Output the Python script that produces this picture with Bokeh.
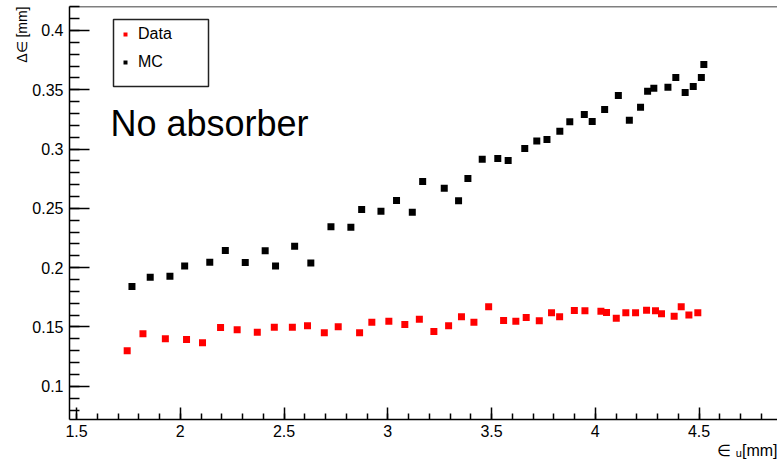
from bokeh.embed import file_html
from bokeh.models import (BoxAnnotation, ColumnDataSource, CustomJSTickFormatter,
                          Label, Legend, LegendItem, Range1d, SingleIntervalTicker, Span, Title)
from bokeh.plotting import figure
from bokeh.resources import INLINE

# Resolution measurements: emittance (x) vs. emittance change (y), no absorber
data_x = [1.744, 1.820, 1.928, 2.030, 2.107, 2.194, 2.274, 2.371, 2.453, 2.540,
          2.613, 2.694, 2.761, 2.864, 2.923, 3.005, 3.082, 3.152, 3.222, 3.293,
          3.355, 3.415, 3.486, 3.558, 3.617, 3.667, 3.730, 3.789, 3.828, 3.899,
          3.950, 4.027, 4.054, 4.101, 4.147, 4.194, 4.247, 4.290, 4.319, 4.380,
          4.414, 4.451, 4.494]
data_y = [0.1300, 0.1443, 0.1400, 0.1395, 0.1367, 0.1496, 0.1476, 0.1456, 0.1498, 0.1498,
          0.1510, 0.1451, 0.1502, 0.1451, 0.1540, 0.1549, 0.1521, 0.1566, 0.1462, 0.1510,
          0.1586, 0.1540, 0.1670, 0.1555, 0.1549, 0.1580, 0.1552, 0.1620, 0.1586, 0.1639,
          0.1637, 0.1633, 0.1622, 0.1574, 0.1620, 0.1620, 0.1642, 0.1637, 0.1611, 0.1591,
          0.1670, 0.1600, 0.1620]

mc_x = [1.767, 1.855, 1.950, 2.021, 2.142, 2.217, 2.313, 2.409, 2.459, 2.551,
        2.629, 2.726, 2.822, 2.874, 2.967, 3.042, 3.118, 3.168, 3.272, 3.341,
        3.386, 3.455, 3.530, 3.580, 3.660, 3.718, 3.767, 3.829, 3.877, 3.947,
        3.985, 4.045, 4.111, 4.164, 4.218, 4.252, 4.282, 4.350, 4.388, 4.433,
        4.472, 4.511, 4.523]
mc_y = [0.1842, 0.1920, 0.1928, 0.2014, 0.2046, 0.2145, 0.2044, 0.2143, 0.2014, 0.2180,
        0.2040, 0.2345, 0.2341, 0.2490, 0.2476, 0.2567, 0.2468, 0.2727, 0.2670, 0.2564,
        0.2752, 0.2915, 0.2921, 0.2904, 0.3005, 0.3067, 0.3081, 0.3151, 0.3230, 0.3292,
        0.3233, 0.3334, 0.3452, 0.3244, 0.3353, 0.3488, 0.3513, 0.3522, 0.3604, 0.3477,
        0.3528, 0.3604, 0.3713]

series_labels = ["Data", "MC"]
annotation_text = "No absorber"
x_title = "\u2208 \u1d64[mm]"
y_title = "\u0394\u2208 [mm]"

X_START, X_END = 1.466, 4.878
Y_START, Y_END = 0.072, 0.4202

FONT = "Liberation Sans"

p = figure(width=777, height=461, output_backend="svg", toolbar_location=None,
           x_range=Range1d(X_START, X_END), y_range=Range1d(Y_START, Y_END),
           min_border_left=69, min_border_right=0, min_border_top=6, min_border_bottom=42)
p.outline_line_color = None
p.background_fill_color = "white"
p.border_fill_color = "white"
p.xgrid.visible = False
p.ygrid.visible = False

fmt = CustomJSTickFormatter(code="return String(parseFloat(tick.toFixed(3)));")

xa = p.xaxis[0]
xa.ticker = SingleIntervalTicker(interval=0.5, num_minor_ticks=5)
xa.formatter = fmt
xa.major_tick_in = 12
xa.major_tick_out = 0
xa.minor_tick_in = 6
xa.minor_tick_out = 0
xa.major_label_standoff = 5

ya = p.yaxis[0]
ya.ticker = SingleIntervalTicker(interval=0.05, num_minor_ticks=5)
ya.formatter = fmt
ya.major_tick_in = 20
ya.major_tick_out = 0
ya.minor_tick_in = 10
ya.minor_tick_out = 0
ya.major_label_standoff = 6

for ax in (xa, ya):
    ax.axis_line_width = 1.5
    ax.major_tick_line_width = 1.5
    ax.minor_tick_line_width = 1.5
    ax.axis_line_color = "black"
    ax.major_tick_line_color = "black"
    ax.minor_tick_line_color = "black"
    ax.major_label_text_font = FONT
    ax.major_label_text_font_size = "16px"
    ax.major_label_text_color = "black"

# top edge of the frame
p.add_layout(Span(location=Y_END, dimension="width", line_color="black", line_width=1.5))

src_data = ColumnDataSource(dict(x=data_x, y=data_y))
src_mc = ColumnDataSource(dict(x=mc_x, y=mc_y))
r_data = p.scatter("x", "y", source=src_data, marker="square", size=7,
                   fill_color="#ff0000", line_color=None)
r_mc = p.scatter("x", "y", source=src_mc, marker="square", size=7,
                 fill_color="#000000", line_color=None)

# legend frame and entries
p.add_layout(BoxAnnotation(left=44, right=139, top=400, bottom=333,
                           left_units="screen", right_units="screen",
                           top_units="screen", bottom_units="screen",
                           fill_color="white", fill_alpha=1.0,
                           line_color="#222222", line_width=1.5, line_alpha=1.0))
legend = Legend(items=[LegendItem(label=series_labels[0], renderers=[r_data]),
                       LegendItem(label=series_labels[1], renderers=[r_mc])],
                location=(51, 346), border_line_color=None, background_fill_alpha=0,
                padding=0, margin=0, spacing=6, glyph_height=22, glyph_width=10,
                label_height=22, label_standoff=8,
                label_text_font=FONT, label_text_font_size="16px",
                label_text_color="black")
p.add_layout(legend)

p.add_layout(Label(x=41, y=296, x_units="screen", y_units="screen", text=annotation_text,
                   text_font=FONT, text_font_size="36px", text_color="black",
                   text_align="left", text_baseline="alphabetic"))

# axis titles at the far end of each axis
p.add_layout(Title(text=y_title, align="right", text_font=FONT, text_font_size="14px",
                   text_font_style="normal", text_color="black", standoff=0, offset=0),
             "left")
p.add_layout(Title(text=x_title, align="right", text_font=FONT, text_font_size="16px",
                   text_font_style="normal", text_color="black", standoff=0, offset=0),
             "below")

open("out.html", "w").write(file_html(p, INLINE))
